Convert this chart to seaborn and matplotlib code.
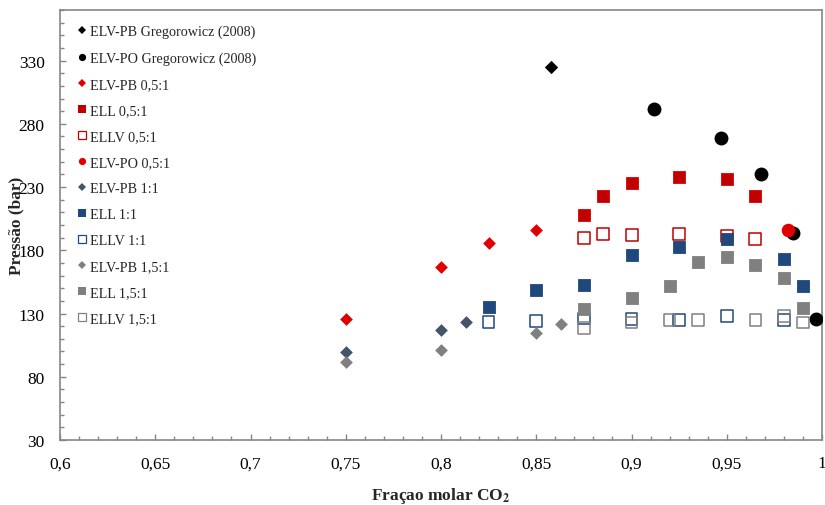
import matplotlib
matplotlib.use("Agg")
import matplotlib.pyplot as plt
from matplotlib.ticker import MultipleLocator, FixedLocator
import seaborn as sns
import pandas as pd

# ---------------- data ----------------
greg_pb_x = [0.858]
greg_pb_y = [325]
greg_po_x = [0.912, 0.947, 0.968, 0.985, 0.997]
greg_po_y = [292, 269, 240, 194, 126]

pb05_x = [0.75, 0.80, 0.825, 0.85]
pb05_y = [126, 167, 186, 196]
ell05_x = [0.875, 0.885, 0.90, 0.925, 0.95, 0.965]
ell05_y = [208, 223, 233, 238, 236, 223]
ellv05_x = [0.875, 0.885, 0.90, 0.925, 0.95, 0.965]
ellv05_y = [190, 193, 192, 193, 191, 189]
po05_x = [0.982]
po05_y = [196]

pb11_x = [0.75, 0.80, 0.813]
pb11_y = [99.5, 117, 123]
ell11_x = [0.825, 0.85, 0.875, 0.90, 0.925, 0.95, 0.98, 0.99]
ell11_y = [135, 148.5, 152.5, 176, 183, 189, 173, 152]
ellv11_x = [0.825, 0.85, 0.875, 0.90, 0.925, 0.95, 0.98]
ellv11_y = [123.5, 124, 126, 125.5, 125, 128, 125]

pb15_x = [0.75, 0.80, 0.85, 0.863]
pb15_y = [92, 101, 115, 122]
ell15_x = [0.875, 0.90, 0.92, 0.935, 0.95, 0.965, 0.98, 0.99]
ell15_y = [133.5, 142, 152, 171, 174.5, 168, 158, 134]
ellv15_x = [0.875, 0.90, 0.92, 0.935, 0.965, 0.98, 0.99]
ellv15_y = [118.5, 123, 125, 125, 125, 128, 123]

x_ticks = [0.6, 0.65, 0.7, 0.75, 0.8, 0.85, 0.9, 0.95, 1.0]
x_tick_labels = ["0,6", "0,65", "0,7", "0,75", "0,8", "0,85", "0,9", "0,95", "1"]
y_ticks = [30, 80, 130, 180, 230, 280, 330]
y_tick_labels = ["30", "80", "130", "180", "230", "280", "330"]

# ---------------- style ----------------
sns.set_style("white")
plt.rcParams["font.family"] = ["Liberation Serif", "DejaVu Serif"]
plt.rcParams["mathtext.fontset"] = "stix"

RED = "#E00000"
DRED = "#C00000"
BLUE = "#1F497D"
SLATE = "#44546A"
GRAY = "#808080"

series = [
    # label, x, y, marker, size, face, edge, lw
    ("ELV-PB Gregorowicz (2008)", greg_pb_x, greg_pb_y, "D", 46, "black", "black", 0),
    ("ELV-PO Gregorowicz (2008)", greg_po_x, greg_po_y, "o", 100, "black", "black", 0),
    ("ELV-PB 0,5:1", pb05_x, pb05_y, "D", 42, RED, RED, 0),
    ("ELL 0,5:1", ell05_x, ell05_y, "s", 74, DRED, RED, 0.6),
    ("ELLV 0,5:1", ellv05_x, ellv05_y, "s", 70, "white", DRED, 1.1),
    ("ELV-PO 0,5:1", po05_x, po05_y, "o", 95, RED, RED, 0),
    ("ELV-PB 1:1", pb11_x, pb11_y, "D", 42, SLATE, SLATE, 0),
    ("ELL 1:1", ell11_x, ell11_y, "s", 74, BLUE, BLUE, 0.6),
    ("ELLV 1:1", ellv11_x, ellv11_y, "s", 70, "none", BLUE, 1.1),
    ("ELV-PB 1,5:1", pb15_x, pb15_y, "D", 42, GRAY, GRAY, 0),
    ("ELL 1,5:1", ell15_x, ell15_y, "s", 74, GRAY, GRAY, 0.6),
    ("ELLV 1,5:1", ellv15_x, ellv15_y, "s", 70, "none", GRAY, 1.1),
]

fig = plt.figure(figsize=(8.25, 5.06), dpi=100)
ax = fig.add_axes([60 / 825, 1 - 441 / 506, (822 - 60) / 825, (441 - 11) / 506])

handles = []
for label, xs, ys, mk, s, fc, ec, lw in series:
    df = pd.DataFrame({"x": xs, "y": ys})
    sns.scatterplot(data=df, x="x", y="y", ax=ax, marker=mk, s=s,
                    color=fc if fc != "none" else ec,
                    facecolor=fc, edgecolor=ec, linewidth=lw, legend=False, zorder=3)
    h = plt.Line2D([], [], linestyle="none", marker=mk,
                   markersize=(4.5 if mk == "D" else 5.2),
                   markerfacecolor=fc, markeredgecolor=ec,
                   markeredgewidth=(0.9 if fc in ("white", "none") else 0))
    handles.append((h, label))

ax.set_xlim(0.6, 1.0)
ax.set_ylim(30, 370)
ax.xaxis.set_major_locator(FixedLocator(x_ticks))
ax.set_xticklabels(x_tick_labels)
ax.yaxis.set_major_locator(FixedLocator(y_ticks))
ax.set_yticklabels(y_tick_labels)
ax.xaxis.set_minor_locator(MultipleLocator(0.01))
ax.yaxis.set_minor_locator(MultipleLocator(10))

ax.tick_params(axis="both", which="major", direction="in", length=4.5, width=1,
               color="#868686", labelsize=12.5, labelcolor="black")
ax.tick_params(axis="both", which="minor", direction="in", length=3, width=1,
               color="#868686")
ax.tick_params(axis="y", which="major", pad=11)
ax.tick_params(axis="x", which="major", pad=11)
ax.tick_params(left=True, bottom=True, which="both")

for sp in ax.spines.values():
    sp.set_color("#868686")
    sp.set_linewidth(1.2)
    sp.set_visible(True)

ax.set_xlabel(r"Fraçao molar CO$_\mathbf{2}$", fontsize=12.5, fontweight="bold", labelpad=10)
ax.set_ylabel("Pressão (bar)", fontsize=12.5, fontweight="bold")
ax.yaxis.set_label_coords(-36 / 762, 0.5)

leg = ax.legend([h for h, _ in handles], [l for _, l in handles],
                loc="upper left", bbox_to_anchor=(0.012, 0.985), frameon=False,
                fontsize=10.2, handlelength=0.6, handletextpad=0.3,
                labelspacing=0.92, borderaxespad=0.2)

fig.savefig("out.png", dpi=100)
